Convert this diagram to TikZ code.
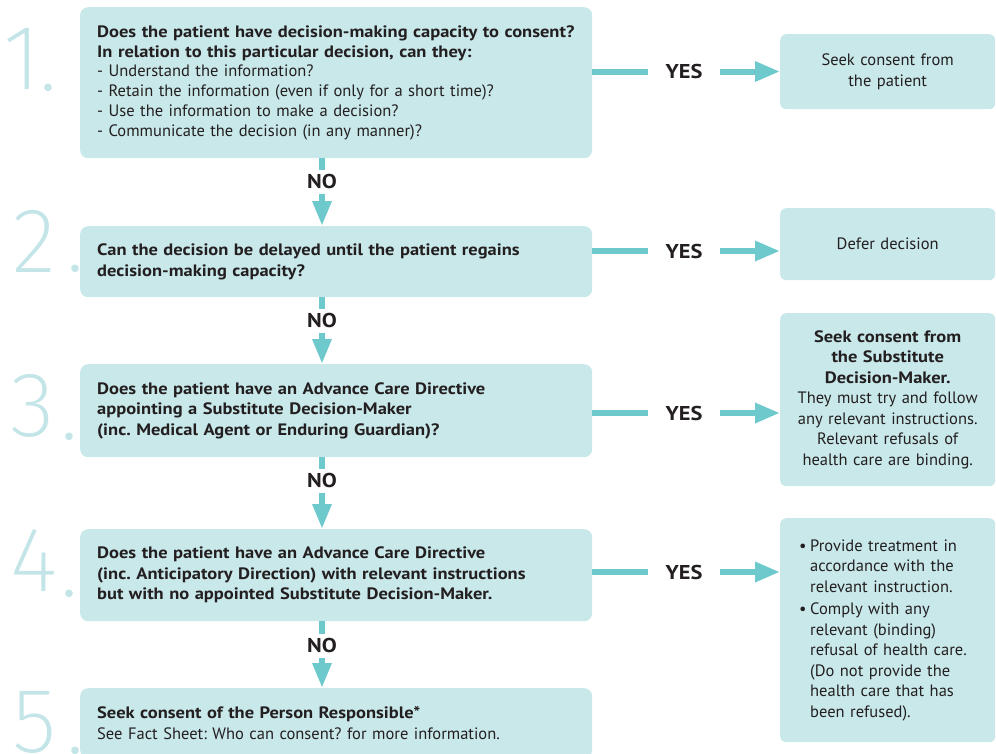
\documentclass[tikz,border=0pt]{standalone}
\usepackage{fontspec}
\setmainfont{PT Sans}[BoldFeatures={FakeStretch=1.12}]
\IfFontExistsTF{Fira Sans ExtraLight}{\newfontfamily\numfont{Fira Sans ExtraLight}}{%
  \IfFontExistsTF{DejaVu Sans ExtraLight}{\newfontfamily\numfont{DejaVu Sans ExtraLight}}{\newfontfamily\numfont{Lato}}}
\usetikzlibrary{arrows.meta}
\definecolor{boxfill}{HTML}{C9E8EA}
\definecolor{arrowc}{HTML}{6DC9CC}
\definecolor{numc}{HTML}{C3E5E7}
\definecolor{txt}{HTML}{231F20}
\frenchspacing
\begin{document}
\begin{tikzpicture}[x=1pt,y=-1pt,
  qbox/.style={fill=boxfill, rounded corners=8pt, anchor=north west, text width=478pt,
    align=left, inner xsep=17pt, inner ysep=0pt, text=txt,
    font=\fontsize{16.5}{20.5}\selectfont, minimum height=#1},
  abox/.style={fill=boxfill, rounded corners=6pt, anchor=north west, text width=199pt,
    align=center, inner xsep=8pt, inner ysep=0pt, text=txt,
    font=\fontsize{16.5}{20.5}\selectfont, minimum height=#1},
  yeslbl/.style={font=\fontsize{20}{20}\selectfont\bfseries, text=txt, inner xsep=17pt, inner ysep=0pt},
  nolbl/.style={font=\fontsize{20}{20}\selectfont\bfseries, text=txt, inner xsep=0pt, inner ysep=5pt,
    text height=13pt, text depth=0pt},
  conn/.style={draw=arrowc, line width=6pt},
  hhead/.style={-{Triangle[length=25pt,width=19pt]}},
  vhead/.style={-{Triangle[length=25pt,width=18pt]}},
  num/.style={font=\numfont\fontsize{92}{92}\selectfont, text=numc, inner sep=0pt, anchor=base},
  numdot/.style={font=\numfont\fontsize{92}{92}\selectfont, text=numc, inner sep=0pt, anchor=base}
]
\useasboundingbox (0,0) rectangle (996,753);

% numbers
\node[num] (n1) at (22,89) {1};
\node[numdot] (d1) at (48,90) {.};
\node[num] (n2) at (34,272) {2};
\node[numdot] (d2) at (75,271) {.};
\node[num] (n3) at (33,436) {3};
\node[numdot] (d3) at (69,439) {.};
\node[num] (n4) at (34,591) {4};
\node[numdot] (d4) at (69,596) {.};
\node[num] (n5) at (35,752) {5};
\node[numdot] (d5) at (75,753) {.};

% question boxes
\node[qbox=151pt, font=\fontsize{16.5}{19.8}\selectfont] (b1) at (80,7) {\textbf{Does the patient have decision-making capacity to consent?}\\
  \textbf{In relation to this particular decision, can they:}\\
  - Understand the information?\\
  - Retain the information (even if only for a short time)?\\
  - Use the information to make a decision?\\
  - Communicate the decision (in any manner)?};
\node[qbox=71pt] (b2) at (80,226) {\textbf{Can the decision be delayed until the patient regains}\\
  \textbf{decision-making capacity?}};
\node[qbox=93pt] (b3) at (80,364) {\textbf{Does the patient have an Advance Care Directive}\\
  \textbf{appointing a Substitute Decision-Maker}\\
  \textbf{(inc. Medical Agent or Enduring Guardian)?}};
\node[qbox=92pt] (b4) at (80,529) {\textbf{Does the patient have an Advance Care Directive}\\
  \textbf{(inc. Anticipatory Direction) with relevant instructions}\\
  \textbf{but with no appointed Substitute Decision-Maker.}};
\node[qbox=70pt] (b5) at (80,688) {\textbf{Seek consent of the Person Responsible*}\\
  See Fact Sheet: Who can consent? for more information.};

% answer boxes
\node[abox=75pt] (r1) at (780,34) {Seek consent from\\the patient};
\node[abox=72pt] (r2) at (780,208) {Defer decision};
\node[abox=173pt] (r3) at (780,313) {\textbf{Seek consent from}\\\textbf{the Substitute}\\\textbf{Decision-Maker.}\\
  They must try and follow\\any relevant instructions.\\Relevant refusals of\\health care are binding.};
\node[abox=224pt, align=left, text width=177pt, inner xsep=19pt] (r4) at (780,518) {%
  \makebox[11pt][l]{\textbullet}Provide treatment in\\
  \hspace*{11pt}accordance with the\\
  \hspace*{11pt}relevant instruction.\\[2pt]
  \makebox[11pt][l]{\textbullet}Comply with any\\
  \hspace*{11pt}relevant (binding)\\
  \hspace*{11pt}refusal of health care.\\
  \hspace*{11pt}(Do not provide the\\
  \hspace*{11pt}health care that has\\
  \hspace*{11pt}been refused).};

% YES connectors
\node[yeslbl] (y1) at (684,71.5) {YES};
\node[yeslbl] (y2) at (684,251) {YES};
\node[yeslbl] (y3) at (684,413) {YES};
\node[yeslbl] (y4) at (684,572) {YES};
\foreach \i in {1,2,3,4}{
  \draw[conn] (b\i.east |- y\i) -- (y\i.west);
  \draw[conn,hhead] (y\i.east) -- (r\i.west |- y\i);
}

% NO connectors
\node[nolbl] (no1) at (322,182) {NO};
\node[nolbl] (no2) at (322,321) {NO};
\node[nolbl] (no3) at (322,481) {NO};
\node[nolbl] (no4) at (322,646) {NO};
\draw[conn] (b1.south -| no1) -- (no1.north);
\draw[conn,vhead] (no1.south) -- (b2.north -| no1);
\draw[conn] (b2.south -| no2) -- (no2.north);
\draw[conn,vhead] (no2.south) -- (b3.north -| no2);
\draw[conn] (b3.south -| no3) -- (no3.north);
\draw[conn,vhead] (no3.south) -- (b4.north -| no3);
\draw[conn] (b4.south -| no4) -- (no4.north);
\draw[conn,vhead] (no4.south) -- (b5.north -| no4);
\end{tikzpicture}
\end{document}
